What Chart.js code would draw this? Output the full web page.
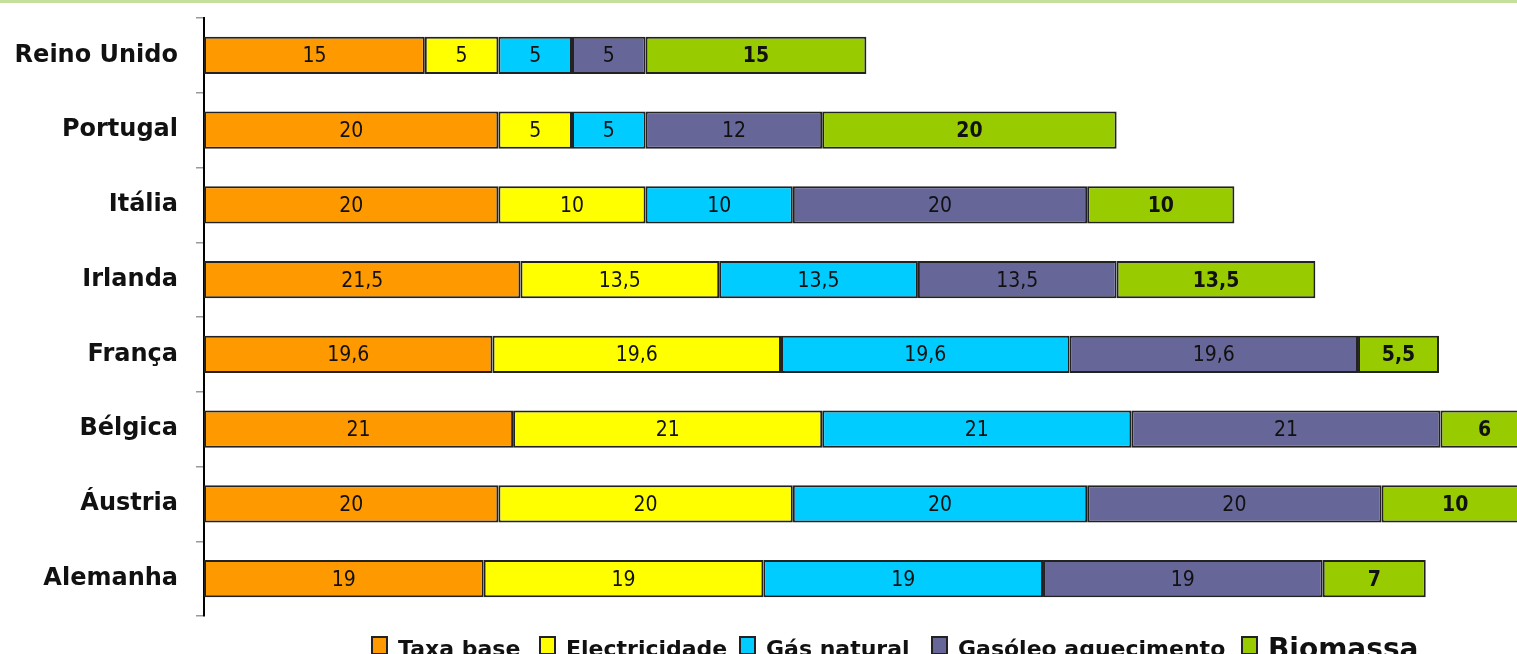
<!DOCTYPE html>
<html><head><meta charset="utf-8">
<script src="https://cdn.jsdelivr.net/npm/chart.js@4.4.1/dist/chart.umd.min.js"></script>
<style>
html,body{margin:0;padding:0;background:#fff;overflow:hidden}
#wrap{position:relative;width:1517px;height:654px}
#topline{position:absolute;left:0;top:0;width:1517px;height:3px;background:#c5df9c;z-index:2}
canvas{position:absolute;left:0;top:0}
</style></head><body>
<div id="wrap"><div id="topline"></div><canvas id="c" width="1517" height="654"></canvas></div>
<script>
const categories = ['Reino Unido','Portugal','Itália','Irlanda','França','Bélgica','Áustria','Alemanha'];
const seriesNames = ['Taxa base','Electricidade','Gás natural','Gasóleo aquecimento','Biomassa'];
const taxaBase = [15,20,20,21.5,19.6,21,20,19];
const electricidade = [5,5,10,13.5,19.6,21,20,19];
const gasNatural = [5,5,10,13.5,19.6,21,20,19];
const gasoleo = [5,12,20,13.5,19.6,21,20,19];
const biomassa = [15,20,10,13.5,5.5,6,10,7];
const xMax = 89.2;

const colors = ['#ff9900','#ffff00','#00ccff','#666699','#99cc00'];
const seriesData = [taxaBase, electricidade, gasNatural, gasoleo, biomassa];

const valueLabels = {
  id:'valueLabels',
  afterDatasetsDraw(chart){
    const ctx = chart.ctx;
    chart.data.datasets.forEach((ds,i)=>{
      const meta = chart.getDatasetMeta(i);
      meta.data.forEach((bar,j)=>{
        const v = ds.data[j];
        const p = bar.getProps(['x','y','base'], true);
        ctx.save();
        ctx.font = (i===4 ? 'bold ' : '') + '21px "DejaVu Sans Condensed"';
        ctx.fillStyle = '#111';
        ctx.textAlign = 'center';
        ctx.textBaseline = 'middle';
        ctx.fillText(String(v).replace('.', ','), (p.x + p.base)/2, p.y + 1.5);
        ctx.restore();
      });
    });
  }
};

const legendBoxes = [372, 540, 740, 932, 1242];
const customLegend = {
  id:'customLegend',
  afterDraw(chart){
    const ctx = chart.ctx;
    chart.data.datasets.forEach((ds,i)=>{
      const bx = legendBoxes[i];
      ctx.save();
      ctx.fillStyle = ds.backgroundColor;
      ctx.fillRect(bx, 637, 15, 17);
      ctx.strokeStyle = '#222';
      ctx.lineWidth = 2;
      ctx.strokeRect(bx, 637, 15, 17);
      ctx.fillStyle = '#111';
      ctx.textBaseline = 'alphabetic';
      ctx.font = i===4 ? 'bold 28px "DejaVu Sans"' : 'bold 22px "DejaVu Sans"';
      ctx.fillText(ds.label, bx + 26, i===4 ? 658 : 656);
      ctx.restore();
    });
  }
};

new Chart(document.getElementById('c'), {
  type:'bar',
  data:{
    labels: categories,
    datasets: seriesNames.map((n,i)=>({
      label:n,
      data: seriesData[i],
      backgroundColor: colors[i],
      borderColor:'#222',
      borderWidth:2,
      borderSkipped:false,
      barPercentage:0.5,
      categoryPercentage:1
    }))
  },
  options:{
    indexAxis:'y',
    responsive:false,
    animation:false,
    layout:{padding:{top:18,bottom:38,left:0,right:0}},
    plugins:{legend:{display:false},tooltip:{enabled:false}},
    scales:{
      x:{stacked:true,min:0,max:xMax,display:false},
      y:{
        stacked:true,
        grid:{offset:true,drawOnChartArea:false,drawTicks:true,tickLength:8,color:'#999',lineWidth:1.5},
        border:{display:true,color:'#000',width:2},
        ticks:{font:{family:'"DejaVu Sans"',weight:'bold',size:24},color:'#111',padding:18},
        afterFit(s){ s.width = 204; s.paddingTop = 0; s.paddingBottom = 0; }
      }
    }
  },
  plugins:[valueLabels, customLegend]
});
</script>
</body></html>
